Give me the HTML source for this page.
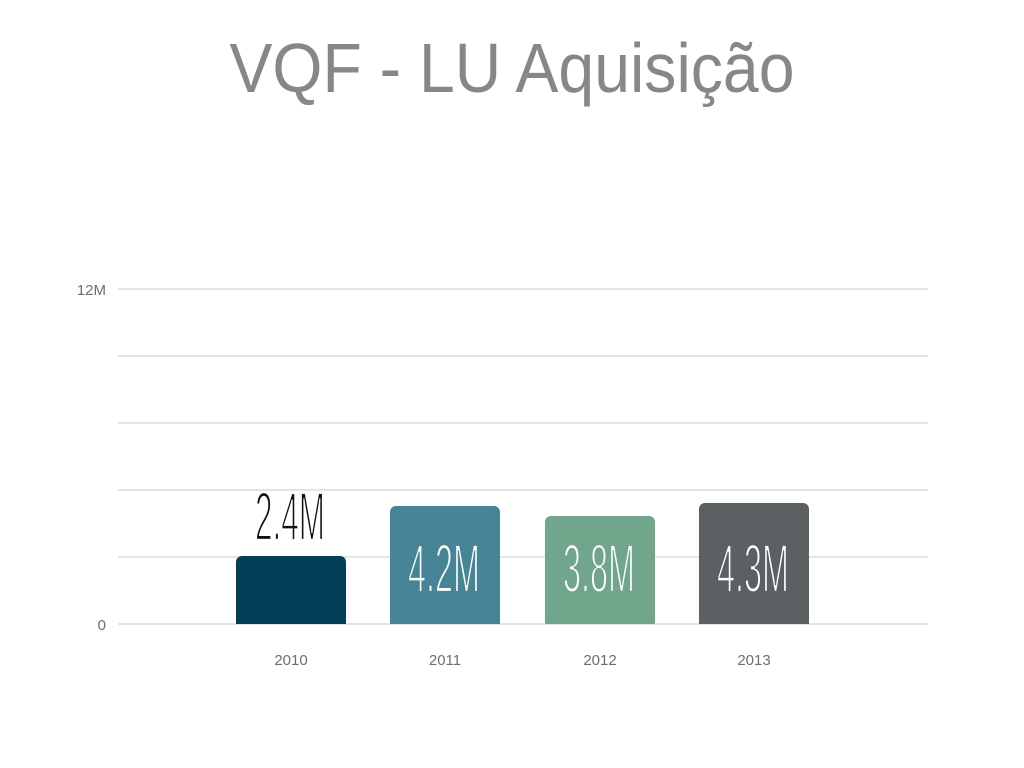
<!DOCTYPE html>
<html><head><meta charset="utf-8"><style>
html,body{margin:0;padding:0;background:#fff;}
svg{display:block;}
</style></head><body>
<svg width="1024" height="768" xmlns="http://www.w3.org/2000/svg">
<text x="512" y="92" text-anchor="middle" font-family="Liberation Sans, sans-serif" font-size="70" fill="#878787" textLength="565" lengthAdjust="spacingAndGlyphs">VQF - LU Aquisição</text>
<g stroke="#dcdcdc" stroke-width="1.5">
<line x1="118" y1="289" x2="928" y2="289"/>
<line x1="118" y1="356" x2="928" y2="356"/>
<line x1="118" y1="423" x2="928" y2="423"/>
<line x1="118" y1="490" x2="928" y2="490"/>
<line x1="118" y1="557" x2="928" y2="557"/>
<line x1="118" y1="624" x2="928" y2="624"/>
</g>
<g font-family="Liberation Sans, sans-serif" font-size="15" fill="#6e6e6e">
<text x="106" y="295" text-anchor="end">12M</text>
<text x="106" y="630" text-anchor="end">0</text>
<text x="291" y="665" text-anchor="middle">2010</text>
<text x="445" y="665" text-anchor="middle">2011</text>
<text x="600" y="665" text-anchor="middle">2012</text>
<text x="754" y="665" text-anchor="middle">2013</text>
</g>
<path d="M236,624 V562 a6,6 0 0 1 6,-6 H340 a6,6 0 0 1 6,6 V624 Z" fill="#033f56"/>
<path d="M390,624 V512 a6,6 0 0 1 6,-6 H494 a6,6 0 0 1 6,6 V624 Z" fill="#478495"/>
<path d="M545,624 V522 a6,6 0 0 1 6,-6 H649 a6,6 0 0 1 6,6 V624 Z" fill="#71a68c"/>
<path d="M699,624 V509 a6,6 0 0 1 6,-6 H803 a6,6 0 0 1 6,6 V624 Z" fill="#5b6062"/>
<g font-family="Liberation Sans Narrow, Liberation Sans, sans-serif" font-size="69" text-anchor="middle" stroke-width="2.2">
<text x="290" y="540" fill="#111" stroke="#fff" textLength="70" lengthAdjust="spacingAndGlyphs">2.4M</text>
<text x="444" y="592" fill="#fff" stroke="#478495" textLength="72" lengthAdjust="spacingAndGlyphs">4.2M</text>
<text x="599" y="592" fill="#fff" stroke="#71a68c" textLength="72" lengthAdjust="spacingAndGlyphs">3.8M</text>
<text x="753" y="592" fill="#fff" stroke="#5b6062" textLength="72" lengthAdjust="spacingAndGlyphs">4.3M</text>
</g>
</svg>
</body></html>
